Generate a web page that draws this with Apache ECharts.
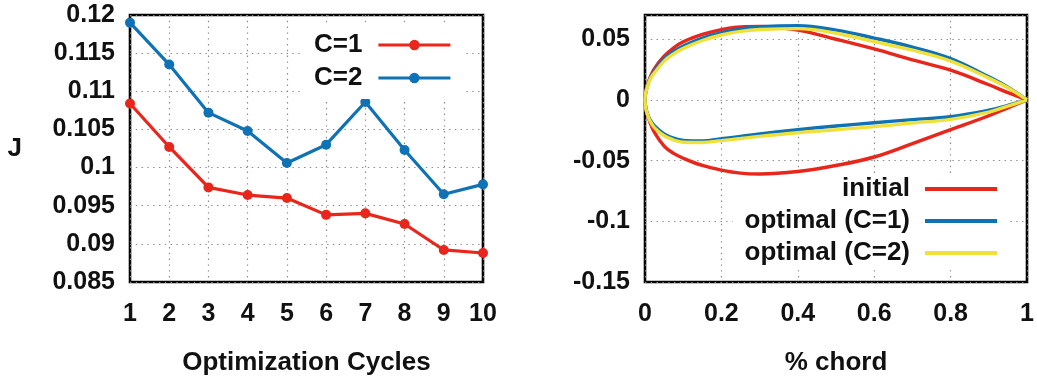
<!DOCTYPE html>
<html><head><meta charset="utf-8">
<script src="https://cdn.jsdelivr.net/npm/echarts@6/dist/echarts.min.js"></script>
<style>html,body{margin:0;padding:0;background:#fff}#c{width:1037px;height:381px}</style>
</head><body><div id="c"></div>
<script>
// ---- Left panel data ----
const cycles = [1, 2, 3, 4, 5, 6, 7, 8, 9, 10];
const jC1 = [0.1084, 0.1027, 0.0974, 0.0964, 0.0960, 0.0938, 0.0940, 0.0926, 0.0892, 0.0888];
const jC2 = [0.1190, 0.1135, 0.1072, 0.1048, 0.1006, 0.1030, 0.1086, 0.1023, 0.0965, 0.0978];

// ---- Right panel data (airfoil surfaces) ----
const chordX = [0, 0.002, 0.005, 0.0125, 0.025, 0.05, 0.075, 0.1, 0.15, 0.2, 0.25, 0.3, 0.4, 0.5, 0.6, 0.7, 0.8, 0.9, 0.95, 1];
const initialUpper = [0, 0.007, 0.011, 0.018, 0.026, 0.036, 0.043, 0.048, 0.054, 0.058, 0.0602, 0.0605, 0.0575, 0.050, 0.042, 0.033, 0.0245, 0.0125, 0.006, 0];
const initialLower = [0, -0.007, -0.011, -0.018, -0.027, -0.038, -0.044, -0.048, -0.054, -0.0578, -0.0603, -0.061, -0.059, -0.054, -0.047, -0.036, -0.0245, -0.013, -0.0065, 0];
const opt1Upper = [0, 0.0065, 0.010, 0.017, 0.024, 0.034, 0.040, 0.0445, 0.051, 0.0555, 0.0585, 0.0603, 0.0612, 0.0575, 0.051, 0.0435, 0.034, 0.019, 0.0105, 0];
const opt1Lower = [0, -0.0065, -0.010, -0.016, -0.0215, -0.028, -0.0315, -0.0333, -0.0338, -0.0320, -0.0300, -0.0280, -0.0245, -0.0215, -0.0188, -0.0162, -0.0138, -0.0085, -0.0045, 0];
const opt2Upper = [0, 0.0062, 0.0095, 0.0165, 0.0225, 0.032, 0.038, 0.0425, 0.049, 0.0535, 0.0565, 0.058, 0.0588, 0.055, 0.048, 0.041, 0.032, 0.018, 0.010, 0];
const opt2Lower = [0, -0.0068, -0.0105, -0.017, -0.023, -0.0295, -0.033, -0.0348, -0.035, -0.0335, -0.0318, -0.030, -0.027, -0.0245, -0.022, -0.019, -0.016, -0.010, -0.005, 0];

const FONT = 'Liberation Sans, Arial, sans-serif';
const RED = '#e8261b', BLUE = '#0f72b4', YELLOW = '#f0e03c';

function loop(up, lo) {
  const u = chordX.map((x, i) => [x, up[i]]).reverse();
  const l = chordX.slice(1).map((x, i) => [x, lo[i + 1]]);
  return u.concat(l);
}

const labelStyle = { fontFamily: FONT, fontWeight: 'bold', fontSize: 25, color: '#111' };
const gridLine = { show: true, lineStyle: { color: '#8a8a8a', width: 1.2, type: [1.4, 4.4] } };

const chart = echarts.init(document.getElementById('c'), null, { renderer: 'canvas' });
chart.setOption({
  animation: false,
  backgroundColor: '#fff',
  grid: [
    { left: 130, top: 15, width: 353, height: 268, show: true, borderColor: '#000', borderWidth: 2.6, backgroundColor: 'transparent' },
    { left: 645, top: 15, width: 382, height: 268, show: true, borderColor: '#000', borderWidth: 2.6, backgroundColor: 'transparent' }
  ],
  xAxis: [
    { gridIndex: 0, type: 'value', min: 1, max: 10, interval: 1,
      axisLine: { show: false }, axisTick: { show: false },
      axisLabel: Object.assign({ margin: 20 }, labelStyle),
      splitLine: gridLine,
      name: 'Optimization Cycles', nameLocation: 'middle', nameGap: 68,
      nameTextStyle: Object.assign({}, labelStyle, { fontSize: 26 }) },
    { gridIndex: 1, type: 'value', min: 0, max: 1, interval: 0.2,
      axisLine: { show: false }, axisTick: { show: false },
      axisLabel: Object.assign({ margin: 20 }, labelStyle),
      splitLine: gridLine,
      name: '% chord', nameLocation: 'middle', nameGap: 68,
      nameTextStyle: Object.assign({}, labelStyle, { fontSize: 26 }) }
  ],
  yAxis: [
    { gridIndex: 0, type: 'value', min: 0.085, max: 0.12, interval: 0.005,
      axisLine: { show: false }, axisTick: { show: false },
      axisLabel: Object.assign({ margin: 15 }, labelStyle),
      splitLine: gridLine,
      name: 'J', nameLocation: 'middle', nameRotate: 0, nameGap: 108,
      nameTextStyle: Object.assign({}, labelStyle, { fontSize: 26 }) },
    { gridIndex: 1, type: 'value', min: -0.15, max: 0.07, interval: 0.05,
      axisLine: { show: false }, axisTick: { show: false },
      axisLabel: Object.assign({ margin: 15, showMaxLabel: false }, labelStyle),
      splitLine: gridLine }
  ],
  legend: [
    { data: ['C=1', 'C=2'], orient: 'vertical', align: 'right', right: 573, top: 24,
      padding: [8, 12, 8, 12], itemGap: 7, itemWidth: 72, itemHeight: 13,
      backgroundColor: '#fff', selectedMode: false,
      lineStyle: { width: 3.2 },
      textStyle: Object.assign({ padding: [0, 11, 0, 0] }, labelStyle, { fontSize: 26 }) },
    { data: [
        { name: 'initial', icon: 'rect', itemStyle: { color: RED } },
        { name: 'optimal (C=1)', icon: 'rect', itemStyle: { color: BLUE } },
        { name: 'optimal (C=2)', icon: 'rect', itemStyle: { color: YELLOW } }
      ],
      orient: 'vertical', align: 'right', right: 29, top: 176,
      padding: [0, 11, 4, 12], itemGap: 6, itemWidth: 72, itemHeight: 4,
      backgroundColor: '#fff', selectedMode: false,
      textStyle: Object.assign({ padding: [0, 10, 0, 0], lineHeight: 26 }, labelStyle, { fontSize: 26 }) }
  ],
  series: [
    { name: 'C=1', type: 'line', xAxisIndex: 0, yAxisIndex: 0, clip: false,
      data: cycles.map((c, i) => [c, jC1[i]]),
      symbol: 'circle', symbolSize: 10, color: RED,
      lineStyle: { width: 3.2, color: RED }, itemStyle: { color: RED } },
    { name: 'C=2', type: 'line', xAxisIndex: 0, yAxisIndex: 0, clip: false,
      data: cycles.map((c, i) => [c, jC2[i]]),
      symbol: 'circle', symbolSize: 10, color: BLUE,
      lineStyle: { width: 3.2, color: BLUE }, itemStyle: { color: BLUE } },
    { name: 'initial', type: 'line', xAxisIndex: 1, yAxisIndex: 1, clip: false,
      data: loop(initialUpper, initialLower), smooth: 0.4, symbol: 'none', color: RED,
      lineStyle: { width: 3.4, color: RED } },
    { name: 'optimal (C=1)', type: 'line', xAxisIndex: 1, yAxisIndex: 1, clip: false,
      data: loop(opt1Upper, opt1Lower), smooth: 0.4, symbol: 'none', color: BLUE,
      lineStyle: { width: 3.4, color: BLUE } },
    { name: 'optimal (C=2)', type: 'line', xAxisIndex: 1, yAxisIndex: 1, clip: false,
      data: loop(opt2Upper, opt2Lower), smooth: 0.4, symbol: 'none', color: YELLOW,
      lineStyle: { width: 3.4, color: YELLOW } }
  ]
});
</script>
</body></html>
